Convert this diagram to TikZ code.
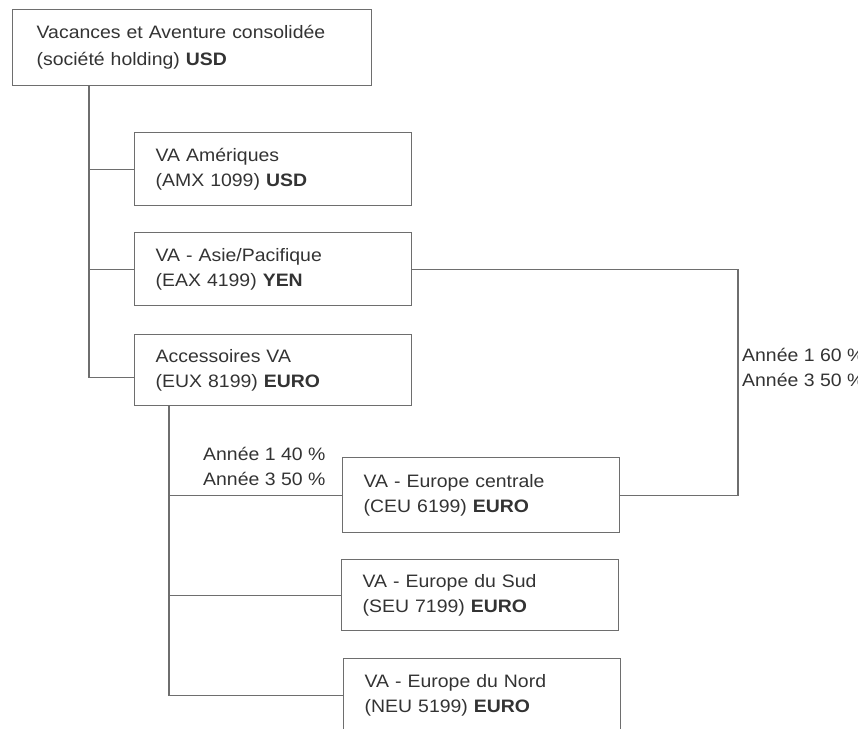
\documentclass[tikz,border=0pt]{standalone}
\usepackage{fontspec}
\setmainfont{Liberation Sans}[FakeStretch=1.08]
\usetikzlibrary{positioning}
\definecolor{linegray}{HTML}{6E6E6E}
\definecolor{textdark}{HTML}{333333}

\begin{document}
\begin{tikzpicture}[
    x=1pt, y=-1pt,
    font=\fontsize{18}{25}\selectfont,
    text=textdark,
    entity/.style={
        draw=linegray,
        line width=1.4pt,
        anchor=north west,
        align=left,
        text width=235pt,
        inner xsep=21pt,
        minimum height=73pt
    },
    holding/.style={
        entity,
        text width=311pt,
        inner xsep=24pt,
        minimum height=76pt,
        font=\fontsize{18}{27}\selectfont
    },
    link/.style={
        draw=linegray,
        line width=1.4pt
    },
    share/.style={
        anchor=west,
        align=left,
        inner sep=0pt
    }
]
\useasboundingbox (0,0) rectangle (858,728);

% Holding company
\node[holding] (top) at (12,9) {Vacances et Aventure consolidée\\(société holding) \textbf{USD}};

% First level subsidiaries
\node[entity] (amx) at (134,132) {VA Amériques\\(AMX 1099) \textbf{USD}};
\node[entity] (eax) at (134,232) {VA - Asie/Pacifique\\(EAX 4199) \textbf{YEN}};
\node[entity, minimum height=71pt] (eux) at (134,334) {Accessoires VA\\(EUX 8199) \textbf{EURO}};

% European subsidiaries
\node[entity, minimum height=75pt] (ceu) at (342,457) {VA - Europe centrale\\(CEU 6199) \textbf{EURO}};
\node[entity, minimum height=71pt] (seu) at (341,559) {VA - Europe du Sud\\(SEU 7199) \textbf{EURO}};
\node[entity] (neu) at (343,658) {VA - Europe du Nord\\(NEU 5199) \textbf{EURO}};

% Ownership lines
\draw[link] ([xshift=77pt]top.south west) coordinate (sp1) |- ([yshift=-7pt]eux.west);
\draw[link] (sp1 |- amx.west) -- (amx.west);
\draw[link] (sp1 |- eax.west) -- (eax.west);

\draw[link] ([xshift=35pt]eux.south west) coordinate (sp2) |- (neu.west);
\draw[link] (sp2 |- ceu.west) -- (ceu.west);
\draw[link] (sp2 |- seu.west) -- (seu.west);

% Shared ownership of Europe centrale
\coordinate (rt) at (738,0);
\draw[link] (eax.east) -| (rt |- ceu.east) -- (ceu.east);

\node[share] (shr) at (742,367) {Année 1 60 \%\\Année 3 50 \%};
\node[share] (shl) at (203,466) {Année 1 40 \%\\Année 3 50 \%};

\end{tikzpicture}
\end{document}
